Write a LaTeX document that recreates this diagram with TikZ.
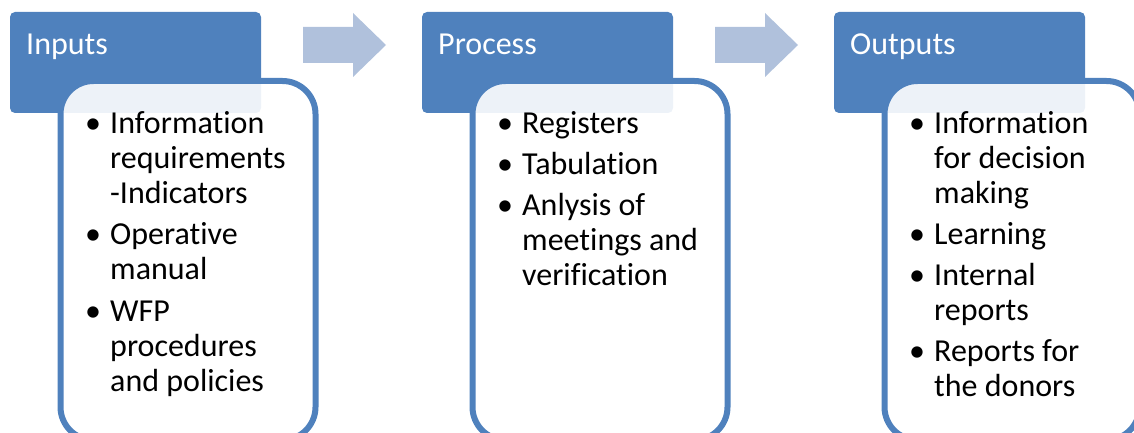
\documentclass[tikz,border=0pt]{standalone}
\usepackage{fontspec}
\setmainfont{Carlito}[Ligatures={NoCommon}]
\definecolor{hdr}{HTML}{4F81BD}
\definecolor{arr}{HTML}{B0C1DC}
\begin{document}
\begin{tikzpicture}[x=1pt,y=-1pt,
  header/.style={fill=hdr, rounded corners=5pt},
  body/.style={draw=hdr, line width=6pt, fill=white, fill opacity=0.9, rounded corners=33pt},
  title/.style={anchor=base west, inner sep=0pt, text=white, font=\fontsize{32}{38}\selectfont},
  item/.style={anchor=base west, inner sep=0pt, align=left, font=\fontsize{32}{35}\selectfont},
  bul/.style={anchor=base, inner sep=0pt, font=\fontsize{32}{35}\selectfont},
  arrowshape/.style={fill=arr}]
\useasboundingbox (0,0) rectangle (1134,433);
\clip (0,0) rectangle (1134,433);
% arrows
\fill[arrowshape] (303,27) -- (353,27) -- (353,13) -- (386,45) -- (353,77) -- (353,63) -- (303,63) -- cycle;
\fill[arrowshape] (715,27) -- (765,27) -- (765,13) -- (798,45) -- (765,77) -- (765,63) -- (715,63) -- cycle;
% headers
\fill[header] (10,12) rectangle (261,113);
\fill[header] (422,12) rectangle (673,113);
\fill[header] (834,12) rectangle (1085,113);
\node[title] (tin) at (26,55) {Inputs};
\node[title] (tpr) at (438,55) {Process};
\node[title] (tout) at (850,55) {Outputs};
% bodies
\draw[body] (60.5,81) rectangle (315.5,440);
\draw[body] (472.5,81) rectangle (727.5,440);
\draw[body] (884.5,81) rectangle (1139.5,440);
% Inputs items (anchor = baseline of the last line)
\node[bul] (bi1) at (93,133.5) {•};
\node[item] (i1) at (110,203.5) {Information\\requirements\\-Indicators};
\node[bul] (bi2) at (93,244.5) {•};
\node[item] (i2) at (110,279.5) {Operative\\manual};
\node[bul] (bi3) at (93,321.5) {•};
\node[item] (i3) at (110,391.5) {WFP\\procedures\\and policies};
% Process items
\node[bul] (bp1) at (505,133.5) {•};
\node[item] (p1) at (522,133.5) {Registers};
\node[bul] (bp2) at (505,174.5) {•};
\node[item] (p2) at (522,174.5) {Tabulation};
\node[bul] (bp3) at (505,215.5) {•};
\node[item] (p3) at (522,285.5) {Anlysis of\\meetings and\\verification};
% Outputs items
\node[bul] (bo1) at (917,133.5) {•};
\node[item] (o1) at (934,203.5) {Information\\for decision\\making};
\node[bul] (bo2) at (917,244.5) {•};
\node[item] (o2) at (934,244.5) {Learning};
\node[bul] (bo3) at (917,285.5) {•};
\node[item] (o3) at (934,320.5) {Internal\\reports};
\node[bul] (bo4) at (917,361.5) {•};
\node[item] (o4) at (934,396.5) {Reports for\\the donors};
\end{tikzpicture}
\end{document}
